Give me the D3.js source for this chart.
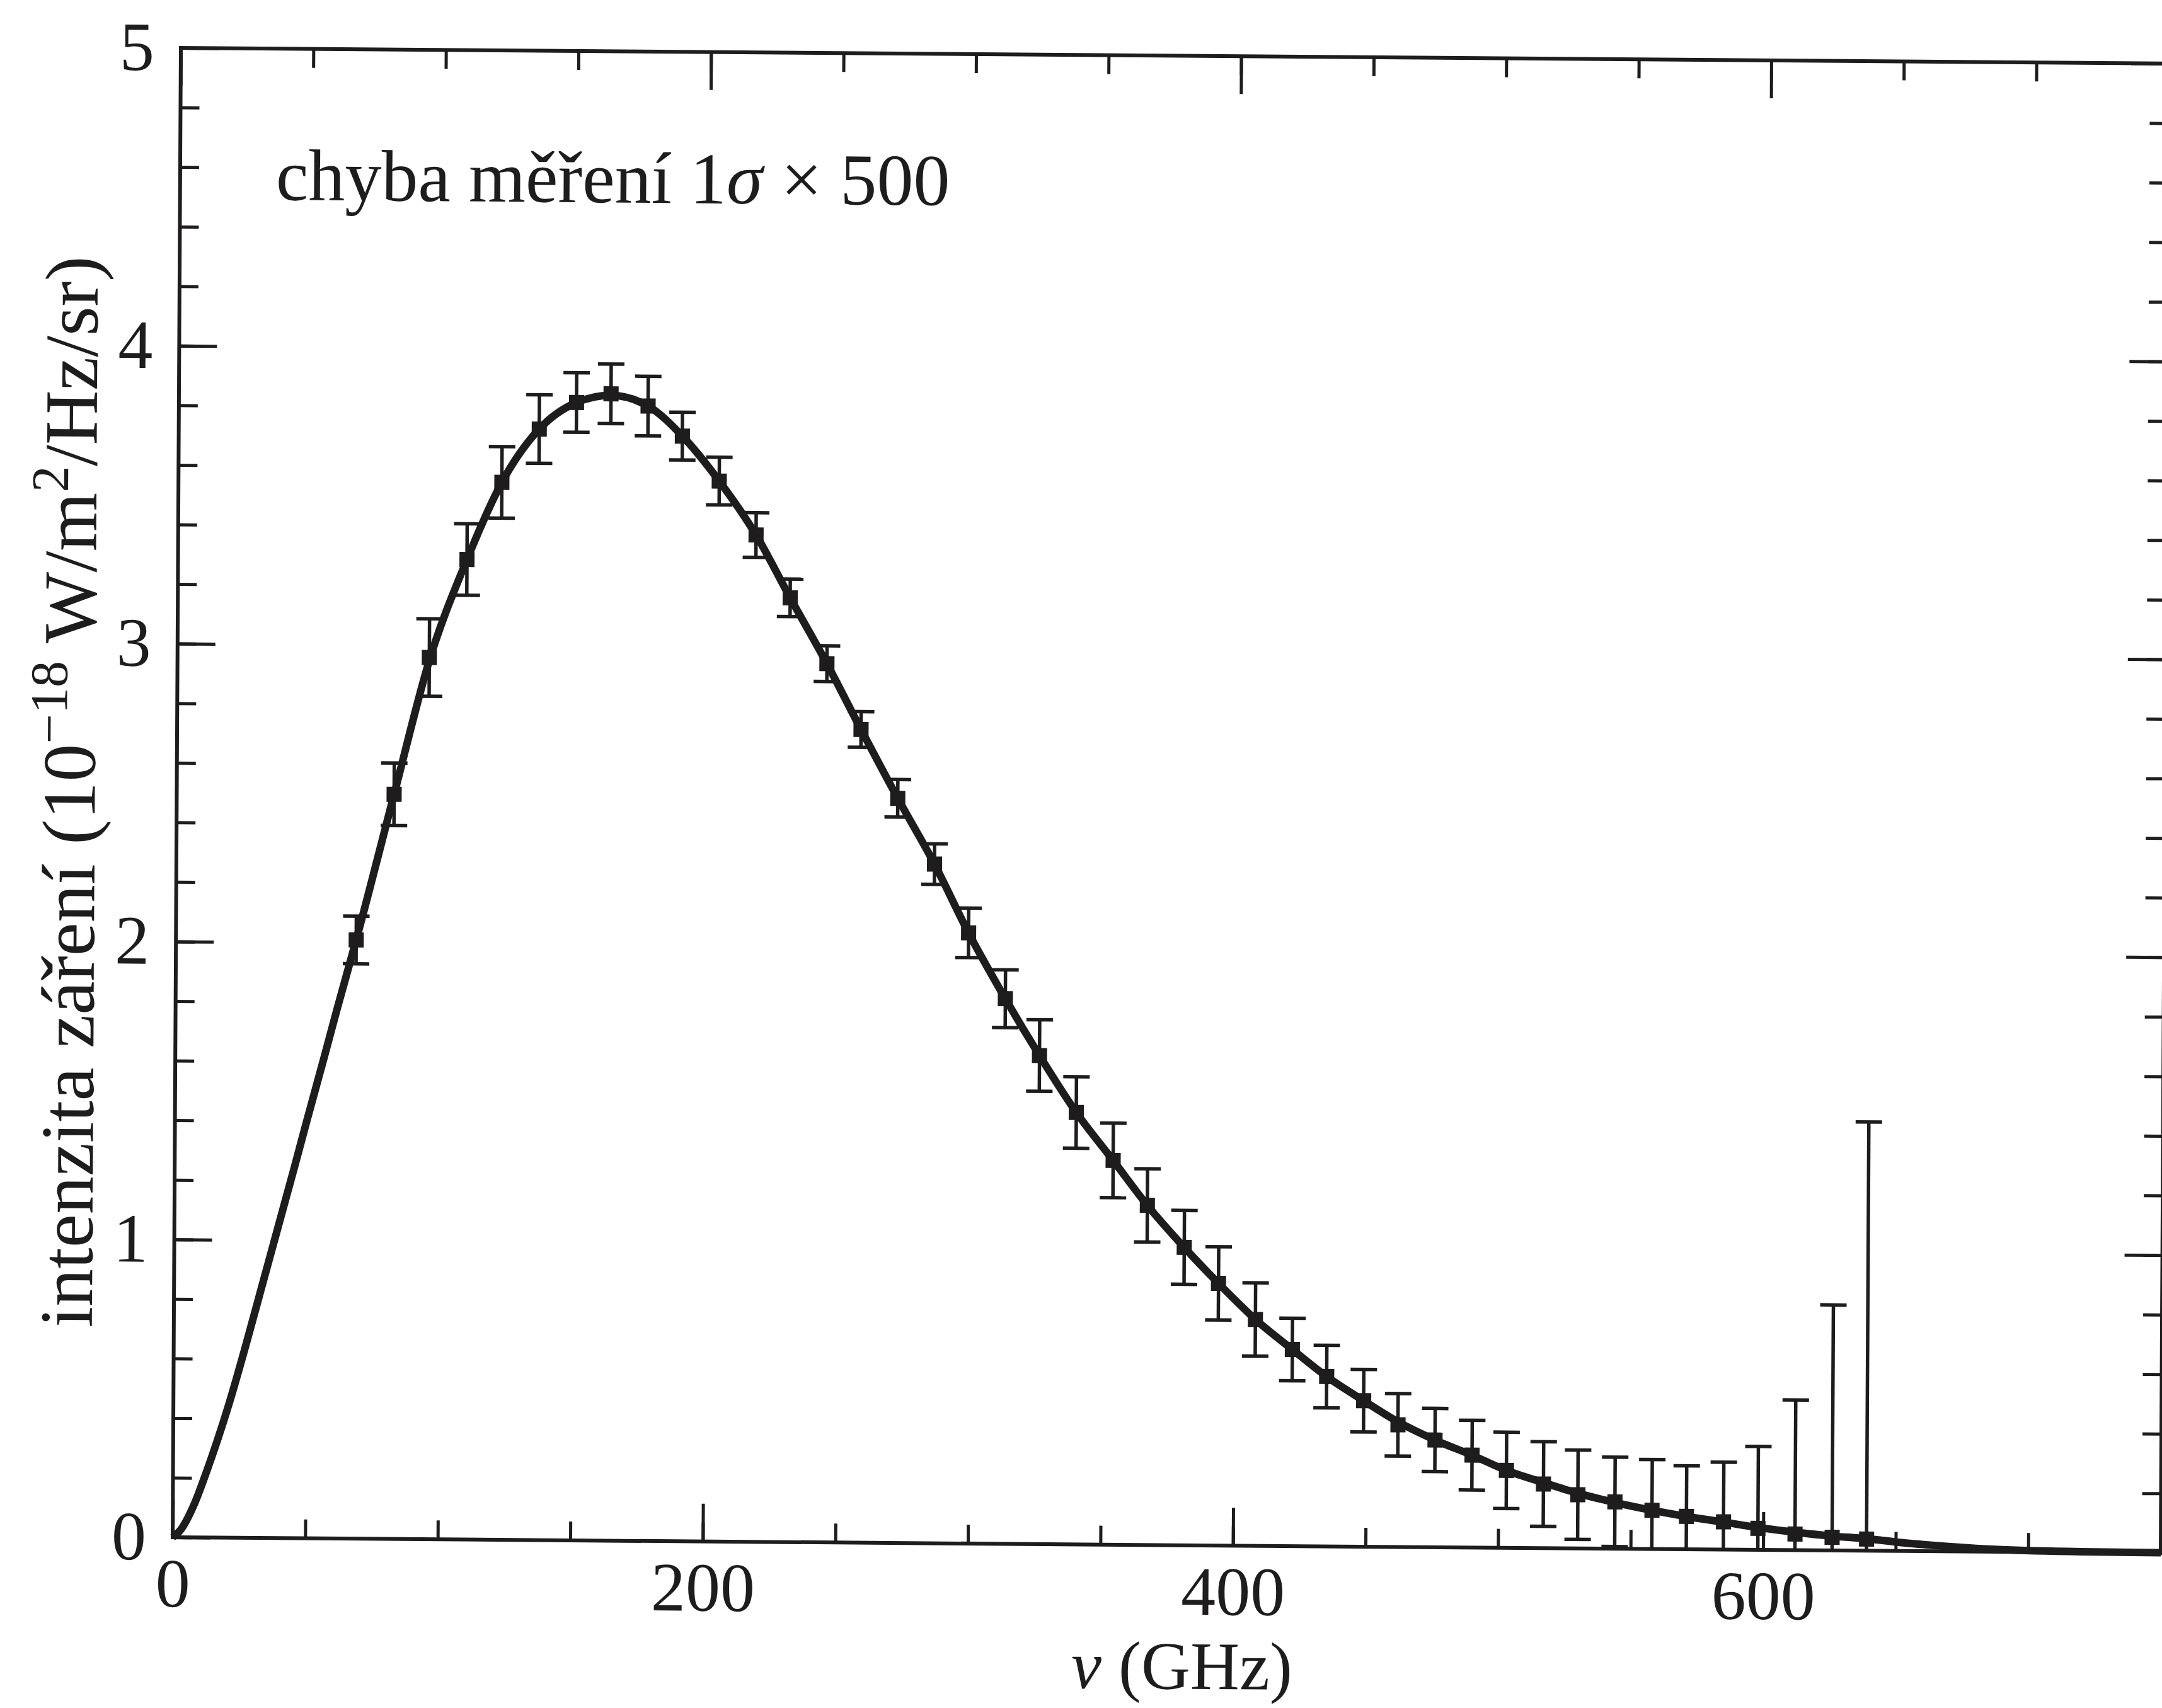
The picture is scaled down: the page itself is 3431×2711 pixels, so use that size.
<!DOCTYPE html>
<html>
<head>
<meta charset="utf-8">
<script src="https://cdn.jsdelivr.net/npm/d3@7"></script>
<style>
  body { margin: 0; background: #fff; }
  svg text { font-family: "Liberation Serif", "Times New Roman", serif; fill: #1e1c1d; }
</style>
</head>
<body>
<div id="chart"></div>
<script>
const freqs = [68, 82, 95, 109, 122, 136, 150, 163, 177, 190, 204, 218, 231, 245, 258,
  272, 286, 299, 313, 326, 340, 354, 367, 381, 394, 408, 422, 435, 449, 462, 476, 490,
  503, 517, 530, 544, 558, 571, 585, 598, 612, 626, 639];
const intensity = [2.01, 2.50, 2.96, 3.29, 3.55, 3.73, 3.82, 3.85, 3.81, 3.71, 3.56, 3.38,
  3.17, 2.95, 2.73, 2.50, 2.28, 2.05, 1.83, 1.64, 1.45, 1.29, 1.14, 1.00, 0.88, 0.76, 0.66,
  0.57, 0.49, 0.41, 0.36, 0.31, 0.26, 0.215, 0.18, 0.157, 0.13, 0.11, 0.093, 0.072, 0.054,
  0.044, 0.039];
// 1 sigma error (already multiplied by 500)
const errors = [0.08, 0.105, 0.13, 0.12, 0.12, 0.115, 0.10, 0.10, 0.10, 0.08, 0.08, 0.075,
  0.063, 0.06, 0.06, 0.063, 0.068, 0.083, 0.097, 0.12, 0.12, 0.125, 0.123, 0.124, 0.123,
  0.123, 0.105, 0.105, 0.105, 0.105, 0.106, 0.117, 0.128, 0.142, 0.15, 0.15, 0.17, 0.17,
  0.2, 0.275, 0.45, 0.78, 1.40];

// blackbody curve
const curveFreqs = [0, 3, 8, 13, 21, 27, 33, 39, 45, 50, 56, 61, 68, 82, 95, 109, 122, 136,
  150, 163, 177, 190, 204, 218, 231, 245, 258, 272, 286, 299, 313, 326, 340, 354, 367, 381,
  394, 408, 422, 435, 449, 462, 476, 490, 503, 517, 530, 544, 558, 571, 585, 598, 612, 626,
  639, 651, 670, 689, 720, 750];
const curveVals = [0, 0.025, 0.11, 0.23, 0.45, 0.64, 0.84, 1.04, 1.24, 1.41, 1.61, 1.78, 2.01,
  2.5, 2.95, 3.29, 3.55, 3.73, 3.82, 3.845, 3.81, 3.71, 3.56, 3.38, 3.17, 2.95, 2.73, 2.50,
  2.28, 2.05, 1.83, 1.64, 1.45, 1.29, 1.14, 1.0, 0.88, 0.76, 0.66, 0.57, 0.49, 0.42, 0.36,
  0.31, 0.26, 0.22, 0.185, 0.155, 0.13, 0.11, 0.092, 0.075, 0.06, 0.048, 0.04, 0.029, 0.016,
  0.007, 0.002, 0.001];

const xMajorTicks = [0, 200, 400, 600];
const xMinorTicks = [0, 50, 100, 150, 200, 250, 300, 350, 400, 450, 500, 550, 600, 650, 700, 750];
const yMajorTicks = [0, 1, 2, 3, 4, 5];
const yMinorTicks = d3.range(0, 26).map(i => i / 5);

const noteText = 'chyba měření 1';
const noteTail = ' × 500';

class SpectrumChart {
  constructor(_config) {
    this.config = {
      parentElement: _config.parentElement,
      containerWidth: 3431,
      containerHeight: 2711,
      plotWidth: 3155,
      plotHeight: 2364,
      // the scanned page is slightly tilted/sheared
      frame: 'matrix(1,0.0079,-0.0055,1,287,76)',
      majorTick: 60,
      minorTick: 30
    };
    this.initVis();
  }

  initVis() {
    let vis = this;
    const cfg = vis.config;
    vis.width = cfg.plotWidth;
    vis.height = cfg.plotHeight;

    vis.svg = d3.select(cfg.parentElement).append('svg')
      .attr('width', cfg.containerWidth)
      .attr('height', cfg.containerHeight);

    vis.svg.append('rect')
      .attr('width', cfg.containerWidth)
      .attr('height', cfg.containerHeight)
      .attr('fill', '#fff');

    vis.chart = vis.svg.append('g').attr('transform', cfg.frame);

    vis.chart.append('clipPath').attr('id', 'plot-clip')
      .append('rect')
      .attr('width', vis.width)
      .attr('height', vis.height);

    vis.xScale = d3.scaleLinear().domain([0, 750]).range([0, vis.width]);
    vis.yScale = d3.scaleLinear().domain([0, 5]).range([vis.height, 0]);

    vis.renderVis();
  }

  renderVis() {
    let vis = this;
    const cfg = vis.config;
    const ink = '#1e1c1d';

    const styleAxis = (g, width) => {
      g.select('.domain').remove();
      g.selectAll('.tick line').attr('stroke', ink).attr('stroke-width', width);
      g.selectAll('.tick text')
        .attr('fill', ink)
        .style('font-size', '110px')
        .style('font-family', '"Liberation Serif", serif');
    };

    // minor ticks on all four sides
    vis.chart.append('g')
      .attr('transform', `translate(0,${vis.height})`)
      .call(d3.axisBottom(vis.xScale).tickValues(xMinorTicks).tickSize(-cfg.minorTick).tickFormat(''))
      .call(g => styleAxis(g, 5));
    vis.chart.append('g')
      .call(d3.axisTop(vis.xScale).tickValues(xMinorTicks).tickSize(-cfg.minorTick).tickFormat(''))
      .call(g => styleAxis(g, 5));
    vis.chart.append('g')
      .call(d3.axisLeft(vis.yScale).tickValues(yMinorTicks).tickSize(-cfg.minorTick).tickFormat(''))
      .call(g => styleAxis(g, 5));
    vis.chart.append('g')
      .attr('transform', `translate(${vis.width},0)`)
      .call(d3.axisRight(vis.yScale).tickValues(yMinorTicks).tickSize(-cfg.minorTick).tickFormat(''))
      .call(g => styleAxis(g, 5));

    // major ticks, labelled on bottom and left
    vis.chart.append('g')
      .attr('transform', `translate(0,${vis.height})`)
      .call(d3.axisBottom(vis.xScale).tickValues(xMajorTicks).tickSize(-cfg.majorTick).tickPadding(32).tickFormat(d3.format('d')))
      .call(g => styleAxis(g, 5));
    vis.chart.append('g')
      .call(d3.axisTop(vis.xScale).tickValues(xMajorTicks).tickSize(-cfg.majorTick).tickFormat(''))
      .call(g => styleAxis(g, 5));
    vis.chart.append('g')
      .call(d3.axisLeft(vis.yScale).tickValues(yMajorTicks).tickSize(-cfg.majorTick).tickPadding(42).tickFormat(d3.format('d')))
      .call(g => styleAxis(g, 5));
    vis.chart.append('g')
      .attr('transform', `translate(${vis.width},0)`)
      .call(d3.axisRight(vis.yScale).tickValues(yMajorTicks).tickSize(-cfg.majorTick).tickFormat(''))
      .call(g => styleAxis(g, 5));

    // frame
    vis.chart.append('rect')
      .attr('width', vis.width)
      .attr('height', vis.height)
      .attr('fill', 'none')
      .attr('stroke', ink)
      .attr('stroke-width', 6);

    const points = freqs.map((f, i) => ({ f: f, v: intensity[i], e: errors[i] }));

    // error bars (clipped at the plot edges)
    const bars = vis.chart.append('g')
      .attr('clip-path', 'url(#plot-clip)')
      .attr('stroke', ink)
      .attr('stroke-width', 5.5);

    bars.selectAll('.err-line')
      .data(points)
      .join('line')
      .attr('class', 'err-line')
      .attr('x1', d => vis.xScale(d.f))
      .attr('x2', d => vis.xScale(d.f))
      .attr('y1', d => vis.yScale(d.v - d.e))
      .attr('y2', d => vis.yScale(d.v + d.e));

    const capW = 21;
    bars.selectAll('.err-cap-top')
      .data(points)
      .join('line')
      .attr('class', 'err-cap-top')
      .attr('x1', d => vis.xScale(d.f) - capW)
      .attr('x2', d => vis.xScale(d.f) + capW)
      .attr('y1', d => vis.yScale(d.v + d.e))
      .attr('y2', d => vis.yScale(d.v + d.e));

    bars.selectAll('.err-cap-bottom')
      .data(points)
      .join('line')
      .attr('class', 'err-cap-bottom')
      .attr('x1', d => vis.xScale(d.f) - capW)
      .attr('x2', d => vis.xScale(d.f) + capW)
      .attr('y1', d => vis.yScale(d.v - d.e))
      .attr('y2', d => vis.yScale(d.v - d.e));

    // blackbody curve
    const line = d3.line()
      .x(d => vis.xScale(d[0]))
      .y(d => vis.yScale(d[1]))
      .curve(d3.curveMonotoneX);

    vis.chart.append('path')
      .datum(curveFreqs.map((f, i) => [f, curveVals[i]]))
      .attr('fill', 'none')
      .attr('stroke', ink)
      .attr('stroke-width', 12)
      .attr('stroke-linejoin', 'round')
      .attr('d', line);

    // square markers
    const s = 24;
    vis.chart.selectAll('.marker')
      .data(points)
      .join('rect')
      .attr('class', 'marker')
      .attr('x', d => vis.xScale(d.f) - s / 2)
      .attr('y', d => vis.yScale(d.v) - s / 2)
      .attr('width', s)
      .attr('height', s)
      .attr('fill', ink);

    // annotation
    const note = vis.chart.append('text')
      .attr('x', 152)
      .attr('y', 240)
      .style('font-size', '116px');
    note.append('tspan').text(noteText);
    note.append('tspan').style('font-style', 'italic').text('σ');
    note.append('tspan').text(noteTail);

    // axis titles
    const xTitle = vis.chart.append('text')
      .attr('x', vis.xScale(375) + 25)
      .attr('y', vis.height + 228)
      .attr('text-anchor', 'middle')
      .style('font-size', '108px');
    xTitle.append('tspan').style('font-style', 'italic').text('ν');
    xTitle.append('tspan').text(' (GHz)');

    const yTitle = vis.chart.append('text')
      .attr('transform', `translate(-130,${vis.height / 2}) rotate(-90)`)
      .attr('text-anchor', 'middle')
      .style('font-size', '120px');
    yTitle.append('tspan').text('intenzita záření (10');
    yTitle.append('tspan').attr('dy', -45).style('font-size', '84px').text('−18');
    yTitle.append('tspan').attr('dy', 45).text(' W/m');
    yTitle.append('tspan').attr('dy', -45).style('font-size', '84px').text('2');
    yTitle.append('tspan').attr('dy', 45).text('/Hz/sr)');
  }
}

const chart = new SpectrumChart({ parentElement: '#chart' });
</script>
</body>
</html>
